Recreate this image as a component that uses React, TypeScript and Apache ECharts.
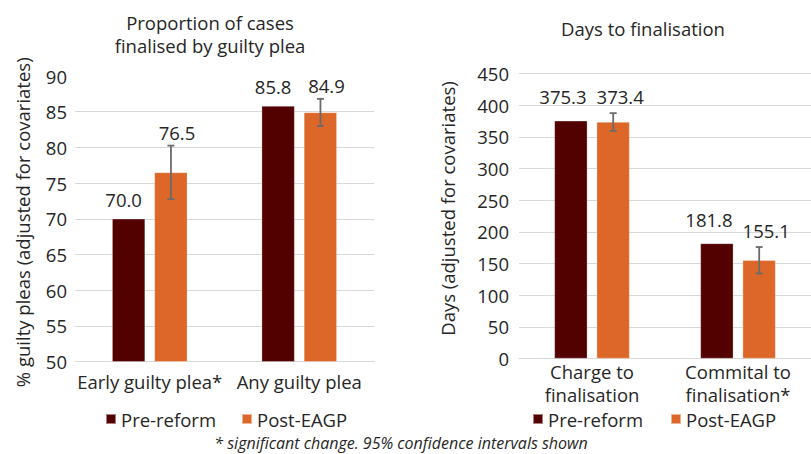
import React, { useEffect, useRef } from "react";
import * as echarts from "echarts";

const leftCategories = ["Early guilty plea*", "Any guilty plea"];
const leftPre = [70.0, 85.8];
const leftPost = [76.5, 84.9];
const leftPostLow = [72.75, 83.0];
const leftPostHigh = [80.25, 86.8];
const leftMin = 50;
const leftMax = 90;
const leftStep = 5;

const rightCategories = ["Charge to\nfinalisation", "Commital to\nfinalisation*"];
const rightPre = [375.3, 181.8];
const rightPost = [373.4, 155.1];
const rightPostLow = [359.4, 134.2];
const rightPostHigh = [387.4, 176.0];
const rightMin = 0;
const rightMax = 450;
const rightStep = 50;

const seriesNames = ["Pre-reform", "Post-EAGP"];
const leftTitle = "Proportion of cases\nfinalised by guilty plea";
const rightTitle = "Days to finalisation";
const leftAxisName = "% guilty pleas (adjusted for covariates)";
const rightAxisName = "Days (adjusted for covariates)";
const footnote = "* significant change. 95% confidence intervals shown";

const FONT = "Open Sans";
const FS = 18.5;
const TEXT = "#262626";
const PRE = "#520000";
const POST = "#DC6729";
const GRID = "#D9D9D9";
const BAR_W = 33;
const POST_OFFSET = 21.2;

function errorSeries(gridIdx: number, post: number[], low: number[], high: number[], lift: number, dx: number) {
  return {
    type: "custom",
    xAxisIndex: gridIdx,
    yAxisIndex: gridIdx,
    z: 10,
    silent: true,
    data: post.map((v, i) => [i, v, low[i], high[i]]),
    encode: { x: 0, y: [1, 2, 3] },
    renderItem: (params: any, api: any) => {
      const idx = api.value(0);
      const x = api.coord([idx, api.value(1)])[0] + POST_OFFSET;
      const yLow = api.coord([idx, api.value(2)])[1];
      const yHigh = api.coord([idx, api.value(3)])[1];
      const st = { stroke: "#6B6B6B", lineWidth: 1.8 };
      return {
        type: "group",
        children: [
          { type: "line", shape: { x1: x, y1: yLow, x2: x, y2: yHigh }, style: st },
          { type: "line", shape: { x1: x - 3.5, y1: yLow, x2: x + 3.5, y2: yLow }, style: st },
          { type: "line", shape: { x1: x - 3.5, y1: yHigh, x2: x + 3.5, y2: yHigh }, style: st },
          {
            type: "text",
            x: x + dx,
            y: yHigh - lift,
            style: {
              text: Number(api.value(1)).toFixed(1),
              fill: TEXT,
              fontSize: FS,
              fontFamily: FONT,
              align: "center",
              verticalAlign: "middle",
            },
          },
        ],
      };
    },
  };
}

function barSeries(gridIdx: number, pre: number[], post: number[], distance: number, dx: number) {
  const common = {
    type: "bar",
    xAxisIndex: gridIdx,
    yAxisIndex: gridIdx,
    barWidth: BAR_W,
    barGap: "28%",
  };
  return [
    {
      ...common,
      name: seriesNames[0],
      data: pre,
      itemStyle: { color: PRE, borderColor: "rgba(255,255,255,0.5)", borderWidth: 0.6 },
      label: {
        show: true,
        position: "top",
        distance,
        offset: [dx, 0],
        formatter: (p: any) => Number(p.value).toFixed(1),
        color: TEXT,
        fontSize: FS,
        fontFamily: FONT,
        lineHeight: 20,
      },
    },
    {
      ...common,
      name: seriesNames[1],
      data: post,
      itemStyle: { color: POST, borderColor: "rgba(255,255,255,0.5)", borderWidth: 0.6 },
    },
  ];
}

export default function App() {
  const ref = useRef<HTMLDivElement>(null);
  useEffect(() => {
    if (!ref.current) return;
    const chart = echarts.init(ref.current, undefined, { renderer: "svg" });
    const axisLabel = { color: TEXT, fontSize: FS, fontFamily: FONT };
    const titleStyle = { color: TEXT, fontSize: FS, fontWeight: "normal", fontFamily: FONT, lineHeight: 23 };
    const legendBase = {
      data: seriesNames,
      top: 409,
      padding: 0,
      icon: "rect",
      itemWidth: 10,
      itemHeight: 10,
      textStyle: { color: TEXT, fontSize: FS, fontFamily: FONT, lineHeight: 20 },
    };
    chart.setOption({
      animation: false,
      backgroundColor: "#ffffff",
      textStyle: { fontFamily: FONT },
      title: [
        { text: leftTitle, left: 210, top: 10.5, padding: 0, textAlign: "center", textStyle: titleStyle },
        { text: rightTitle, left: 643, top: 17, padding: 0, textAlign: "center", textStyle: titleStyle },
      ],
      legend: [
        { ...legendBase, left: 105, itemGap: 25 },
        { ...legendBase, left: 532, itemGap: 27 },
      ],
      grid: [
        { left: 75, right: 437, top: 76, bottom: 92.5 },
        { left: 519, right: -8, top: 73.5, bottom: 95.5 },
      ],
      xAxis: [
        {
          type: "category",
          gridIndex: 0,
          data: leftCategories,
          axisTick: { show: false },
          axisLine: { lineStyle: { color: GRID } },
          axisLabel: { ...axisLabel, margin: 8, lineHeight: 23, interval: 0 },
        },
        {
          type: "category",
          gridIndex: 1,
          data: rightCategories,
          axisTick: { show: false },
          axisLine: { lineStyle: { color: GRID } },
          axisLabel: { ...axisLabel, margin: 1, lineHeight: 23, interval: 0 },
        },
      ],
      yAxis: [
        {
          type: "value",
          gridIndex: 0,
          min: leftMin,
          max: leftMax,
          interval: leftStep,
          axisLine: { show: false },
          axisTick: { show: false },
          splitLine: { lineStyle: { color: GRID }, showMaxLine: false },
          axisLabel: { ...axisLabel, margin: 8 },
          name: leftAxisName,
          nameLocation: "middle",
          nameGap: 43,
          nameTextStyle: { ...axisLabel, padding: [0, 7, 0, 0] },
        },
        {
          type: "value",
          gridIndex: 1,
          min: rightMin,
          max: rightMax,
          interval: rightStep,
          axisLine: { show: false },
          axisTick: { show: false },
          splitLine: { lineStyle: { color: GRID } },
          axisLabel: { ...axisLabel, margin: 10 },
          name: rightAxisName,
          nameLocation: "middle",
          nameGap: 62,
          nameTextStyle: { ...axisLabel, padding: [0, 0, 0, 15] },
        },
      ],
      graphic: [
        {
          type: "text",
          x: 401,
          y: 443,
          style: {
            text: footnote,
            fill: TEXT,
            fontSize: 16,
            fontStyle: "italic",
            fontFamily: FONT,
            align: "center",
            verticalAlign: "middle",
          },
        },
      ],
      series: [
        ...barSeries(0, leftPre, leftPost, 9, -5),
        ...barSeries(1, rightPre, rightPost, 14, -8),
        errorSeries(0, leftPost, leftPostLow, leftPostHigh, 13, 6),
        errorSeries(1, rightPost, rightPostLow, rightPostHigh, 17, 7),
      ],
    });
    return () => chart.dispose();
  }, []);
  return (
    <div
      ref={ref}
      style={{ position: "fixed", left: 0, top: 0, width: 811, height: 454, background: "#fff" }}
    />
  );
}
